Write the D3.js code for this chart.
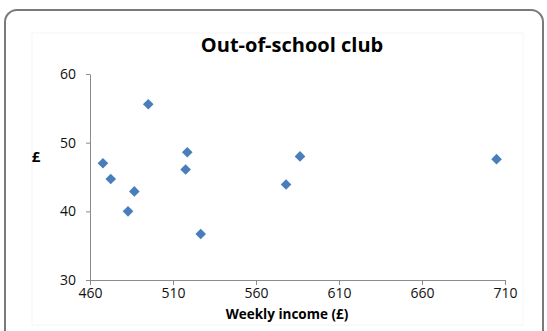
<!DOCTYPE html>
<html><head><meta charset="utf-8">
<script src="https://cdn.jsdelivr.net/npm/d3@7"></script>
<style>body{margin:0;background:#fff;} text{font-family:"Open Sans","Lato",sans-serif;}</style>
</head><body>
<svg id="c" width="547" height="331"></svg>
<script>
const income = [467.8, 472.5, 482.9, 486.7, 495.1, 517.6, 518.6, 526.7, 578.1, 586.5, 704.9];
const cost   = [47.0, 44.7, 40.0, 42.9, 55.6, 46.1, 48.6, 36.7, 43.9, 48.0, 47.6];
const xTicks = [460, 510, 560, 610, 660, 710];
const yTicks = [30, 40, 50, 60];
const title = "Out-of-school club";
const xLabel = "Weekly income (£)";
const yLabel = "£";

const svg = d3.select("#c");
// outer frame
svg.append("rect").attr("x",5).attr("y",10).attr("width",538).attr("height",340)
  .attr("rx",12).attr("fill","#fff").attr("stroke","#7a7a7a").attr("stroke-width",2);
// faint chart area border
svg.append("rect").attr("x",32).attr("y",33).attr("width",491).attr("height",292)
  .attr("fill","none").attr("stroke","#f6f6f6").attr("stroke-width",1);

const x = d3.scaleLinear().domain([460,710]).range([90,505]);
const y = d3.scaleLinear().domain([30,60]).range([280,74]);

const xAxis = svg.append("g").attr("transform","translate(0,280)")
  .call(d3.axisBottom(x).tickValues(xTicks).tickSize(5).tickSizeOuter(0).tickPadding(3));
const yAxis = svg.append("g").attr("transform","translate(90,0)")
  .call(d3.axisLeft(y).tickValues(yTicks).tickSize(4).tickSizeOuter(0).tickPadding(10));
[xAxis,yAxis].forEach(g=>{
  g.select(".domain").attr("stroke","#8c8c8c");
  g.selectAll(".tick line").attr("stroke","#8c8c8c");
  g.selectAll(".tick text").attr("font-size",14).attr("fill","#111").attr("font-family","'Open Sans',sans-serif");
});

const diamond = d3.symbol().type(d3.symbolDiamond2).size(72);
svg.append("g").selectAll("path").data(income).join("path")
  .attr("d", diamond)
  .attr("transform",(d,i)=>`translate(${x(d)},${y(cost[i])})`)
  .attr("fill","#4a7ebb");

svg.append("text").attr("x",292).attr("y",52).attr("text-anchor","middle")
  .attr("font-size",20).attr("font-weight","bold").attr("fill","#000").text(title);
svg.append("text").attr("x",287).attr("y",319).attr("text-anchor","middle")
  .attr("font-size",13.5).attr("font-weight","bold").attr("fill","#000").text(xLabel);
svg.append("text").attr("x",36).attr("y",162).attr("text-anchor","middle")
  .attr("font-size",15).attr("font-weight","bold").attr("fill","#000").text(yLabel);
</script>
</body></html>
